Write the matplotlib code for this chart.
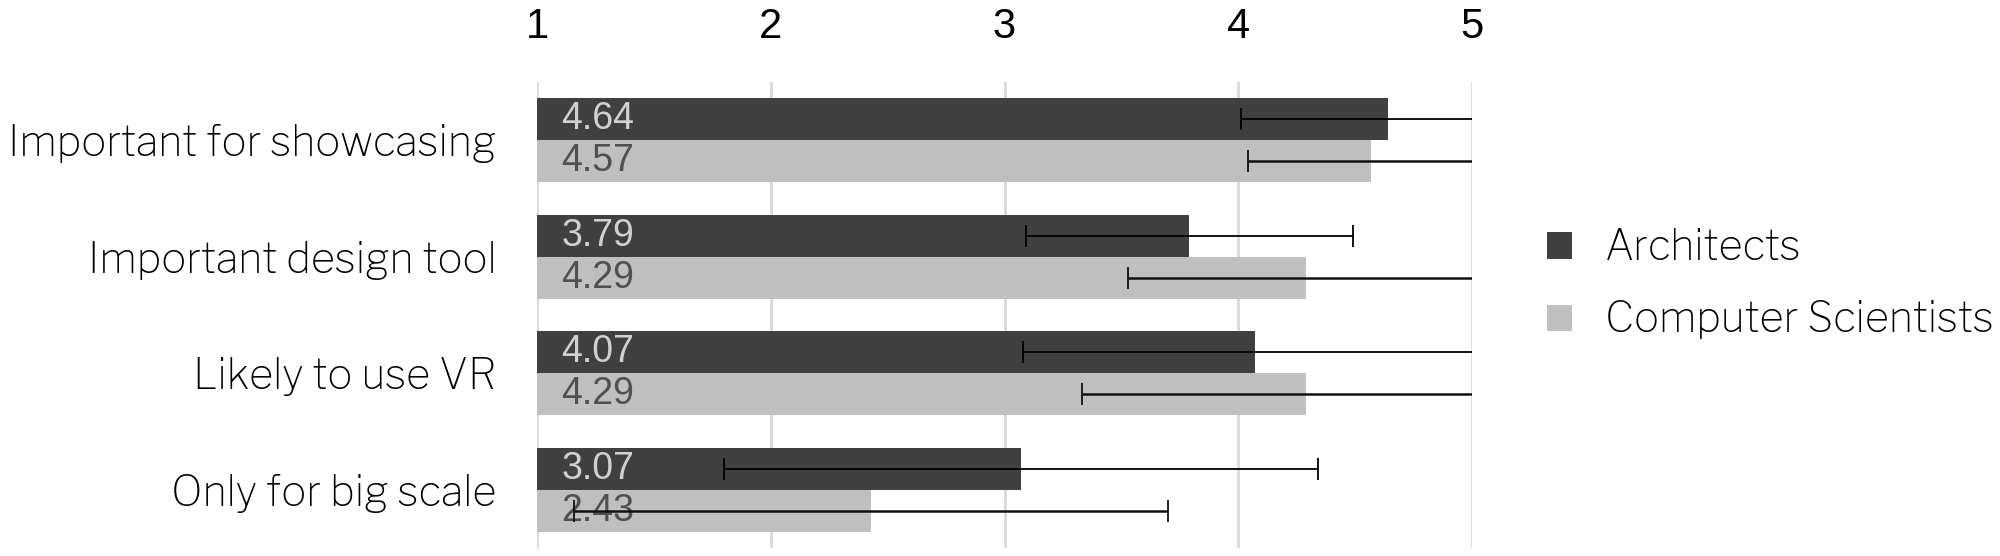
import matplotlib.pyplot as plt
import numpy as np

categories = ["Important for showcasing", "Important design tool",
              "Likely to use VR", "Only for big scale"]
groups = ["Architects", "Computer Scientists"]
architects = [4.64, 3.79, 4.07, 3.07]
architects_err = [0.63, 0.70, 0.99, 1.27]
scientists = [4.57, 4.29, 4.29, 2.43]
scientists_err = [0.53, 0.76, 0.96, 1.27]
ticks = [1, 2, 3, 4, 5]

dark, light = "#404040", "#bfbfbf"
arial = ["Liberation Sans", "DejaVu Sans"]
plt.rcParams["font.family"] = ["Libre Franklin", "Liberation Sans", "DejaVu Sans"]

fig = plt.figure(figsize=(20, 5.56), dpi=100)
ax = fig.add_axes([0.2685, 0.0144, 0.4675, 0.8381])

y = np.arange(len(categories))
h = 0.359
ax.barh(y - h / 2, architects, height=h, color=dark, label=groups[0], zorder=2)
ax.barh(y + h / 2, scientists, height=h, color=light, label=groups[1], zorder=2)
ax.errorbar(architects, y - h / 2, xerr=architects_err, fmt="none",
            ecolor="black", elinewidth=1.3, capsize=8, capthick=1.3, zorder=3)
ax.errorbar(scientists, y + h / 2, xerr=scientists_err, fmt="none",
            ecolor="#111111", elinewidth=1.8, capsize=8, capthick=1.3, zorder=3)

# value labels inside the bars, near the left end
for i in range(len(categories)):
    ax.text(1.105, y[i] - h / 2, f"{architects[i]:.2f}", va="center", ha="left",
            fontsize=27, color="#d0d0d0", family=arial, zorder=4)
    ax.text(1.105, y[i] + h / 2, f"{scientists[i]:.2f}", va="center", ha="left",
            fontsize=27, color="#505050", family=arial, zorder=2.5)

ax.set_xlim(1, 5)
ax.set_ylim(len(categories) - 0.5, -0.5)
ax.set_xticks(ticks)
ax.set_xticklabels([str(t) for t in ticks], family=arial, fontsize=30)
ax.xaxis.tick_top()
ax.tick_params(axis="x", length=0, pad=25)
ax.set_yticks(y)
ax.set_yticklabels(categories, fontsize=30)
ax.tick_params(axis="y", length=0, pad=29)
ax.grid(axis="x", color="#d9d9d9", linewidth=2, zorder=0)
ax.set_axisbelow(True)
for s in ax.spines.values():
    s.set_visible(False)

ax.legend(loc="center left", bbox_to_anchor=(1.08, 0.567), frameon=False,
          fontsize=30, handlelength=0.6, handleheight=0.6, handletextpad=0.8,
          labelspacing=0.8, borderpad=0, borderaxespad=0)

fig.savefig("out.png", dpi=100)
